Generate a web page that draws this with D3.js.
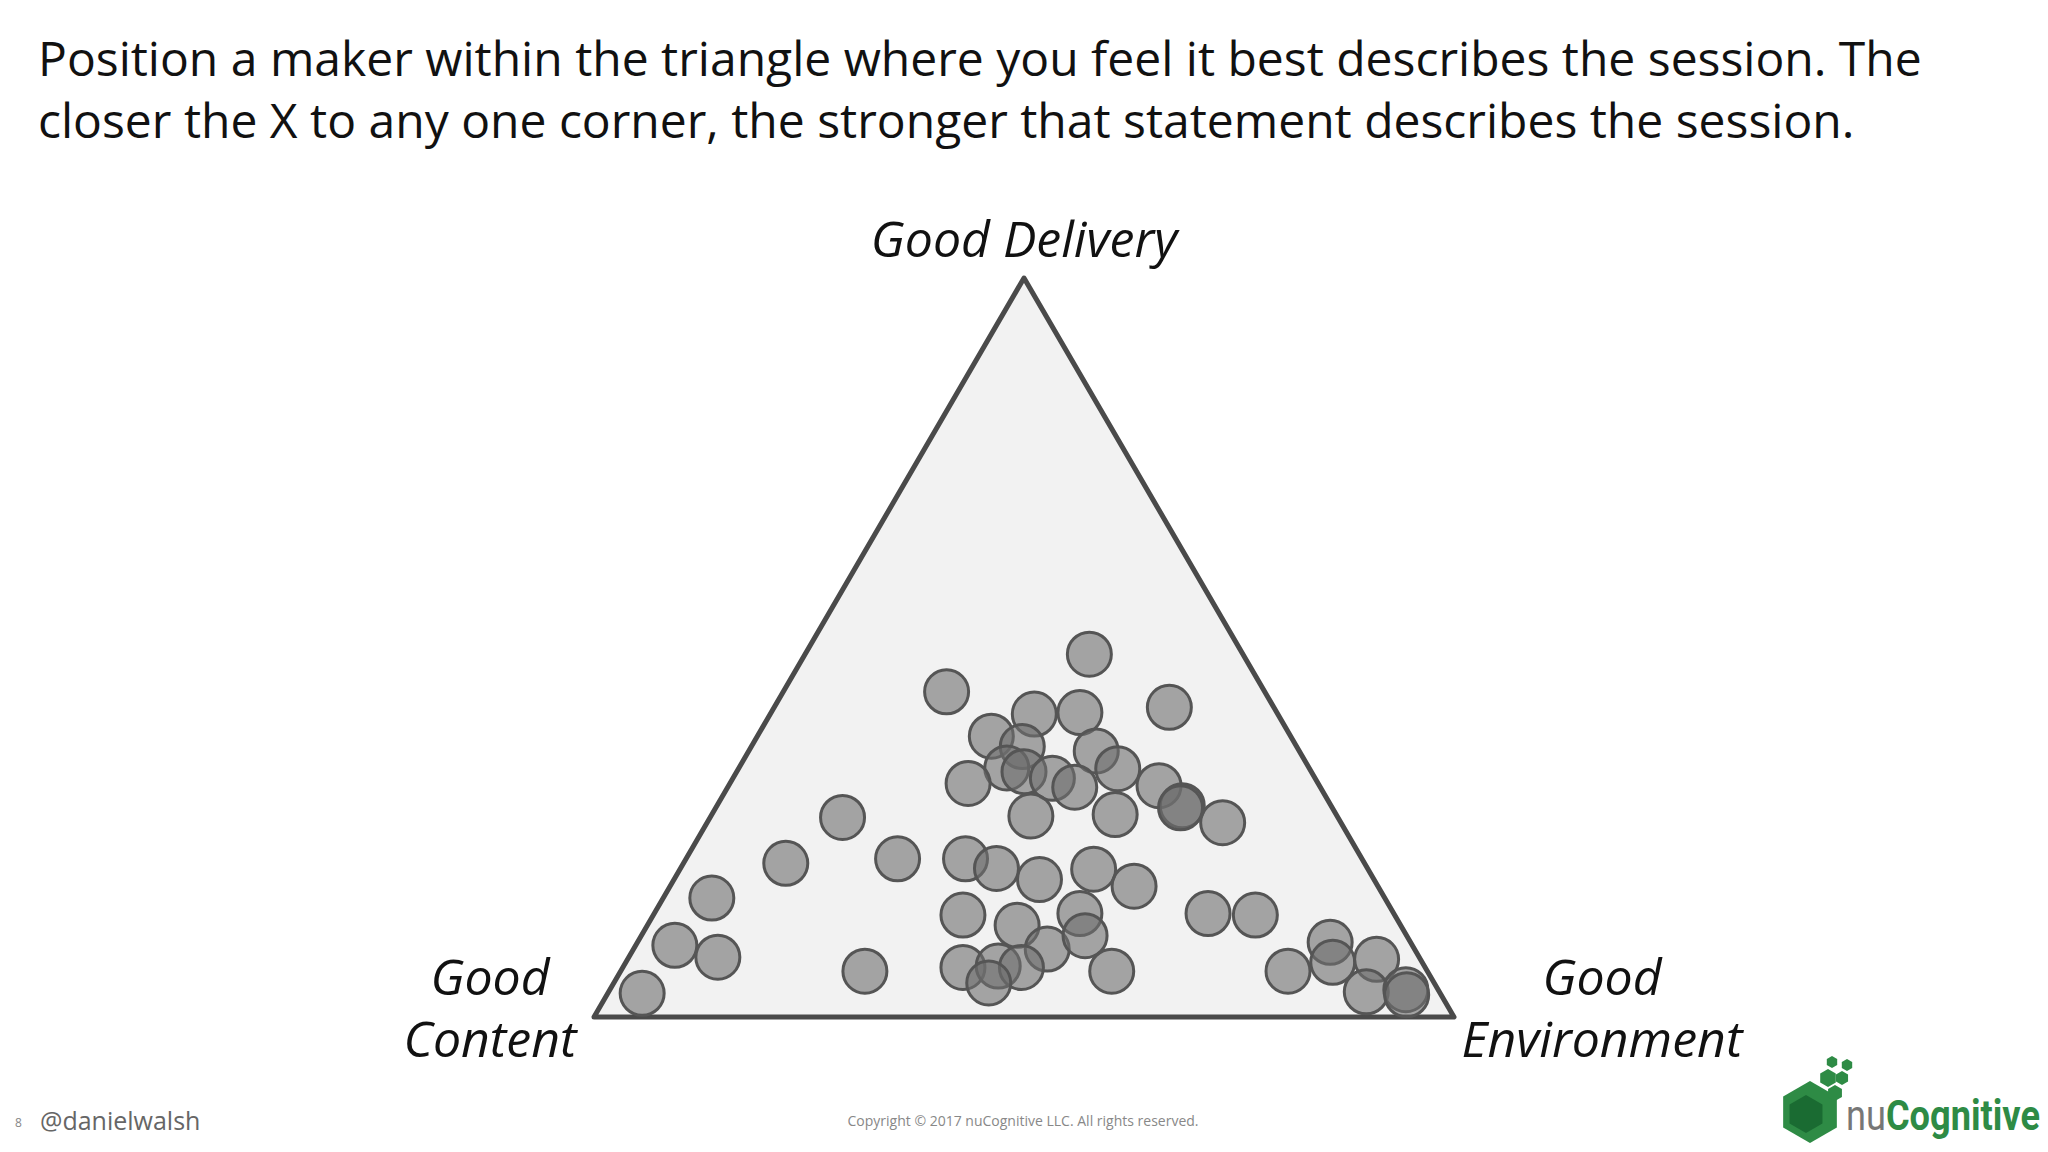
<!DOCTYPE html>
<html><head><meta charset="utf-8">
<script src="https://cdn.jsdelivr.net/npm/d3@7"></script>
<style>body{margin:0;background:#fff}</style></head>
<body><svg id="c" width="2048" height="1152"></svg>
<script>
const cornerLabels = ["Good Delivery", "Good Content", "Good Environment"];
const titleLines = ["Position a maker within the triangle where you feel it best describes the session. The",
  "closer the X to any one corner, the stronger that statement describes the session."];
// u: position along the base (0-100), v: height above base (0-100)
const pointsU = [57.6,41.0,66.9,51.2,56.5,46.2,49.8,58.4,48.0,50.0,53.3,60.9,43.5,55.9,65.7,68.4,68.2,50.8,60.6,73.1,28.9,22.3,35.3,43.2,46.8,51.8,58.1,62.8,13.7,42.9,56.5,71.4,76.9,49.2,9.4,14.4,52.7,57.1,85.6,85.9,91.0,31.5,42.9,47.0,49.7,60.2,80.7,5.6,45.9,89.8,94.4,94.5];
const pointsV = [49.1,44.0,41.9,41.0,41.2,38.0,36.6,36.0,33.7,33.2,32.3,33.6,31.6,31.1,31.3,28.6,28.3,27.2,27.4,26.3,27.0,20.8,21.4,21.4,20.1,18.6,20.0,17.7,16.1,13.8,14.0,14.0,13.8,12.4,9.7,8.1,9.2,11.0,10.1,7.4,7.8,6.2,6.7,6.9,6.7,6.2,6.2,3.2,4.6,3.4,3.7,3.0];

const svg = d3.select("#c");
const x = d3.scaleLinear().domain([0,100]).range([594,1454]);
const y = d3.scaleLinear().domain([0,100]).range([1017,278]);
const font = "'Open Sans','Noto Sans',sans-serif";

svg.selectAll("text.t").data(titleLines).join("text").attr("class","t")
  .attr("x",38).attr("y",(d,i)=>76+i*62).attr("font-family",font).attr("font-size",48).attr("fill","#111").text(d=>d);

svg.append("path").attr("d",d3.line()([[x(0),y(0)],[x(50),y(100)],[x(100),y(0)]])+"Z")
  .attr("fill","#f2f2f2").attr("stroke","#4a4a4a").attr("stroke-width",5).attr("stroke-linejoin","round");

svg.selectAll("circle").data(pointsU.map((u,i)=>[u,pointsV[i]])).join("circle")
  .attr("cx",d=>x(d[0])).attr("cy",d=>y(d[1])).attr("r",22)
  .attr("fill","rgba(110,110,110,0.6)").attr("stroke","#555").attr("stroke-width",3);

const lab = (t,cx,cy)=>svg.append("text").attr("x",cx).attr("y",cy).attr("text-anchor","middle")
  .attr("font-family",font).attr("font-style","italic").attr("font-size",50).attr("fill","#111").text(t);
lab(cornerLabels[0],1024,257);
lab("Good",490,995); lab("Content",490,1057);
lab("Good",1602,995); lab("Environment",1602,1057);

svg.append("text").attr("x",15).attr("y",1127).attr("font-family",font).attr("font-size",12).attr("fill","#888").text("8");
svg.append("text").attr("x",40).attr("y",1130).attr("font-family",font).attr("font-size",25).attr("fill","#666").text("@danielwalsh");
svg.append("text").attr("x",1023).attr("y",1126).attr("text-anchor","middle").attr("font-family",font).attr("font-size",14).attr("fill","#888").text("Copyright © 2017 nuCognitive LLC. All rights reserved.");

// logo
const hex=(cx,cy,r)=>d3.range(6).map(i=>{const a=Math.PI/3*i+Math.PI/6;return [cx+r*Math.cos(a),cy+r*Math.sin(a)];});
const hl=d3.line();
svg.append("path").attr("d",hl(hex(1810,1112,31))+"Z").attr("fill","#2e8b45");
svg.append("path").attr("d",hl(hex(1806,1114,19))+"Z").attr("fill","#1a6b32");
[[1828,1078,9],[1842,1078,7],[1835,1093,8],[1832,1062,6],[1847,1065,6]].forEach(h=>
  svg.append("path").attr("d",hl(hex(...h))+"Z").attr("fill","#2e8b45"));
const lt=svg.append("text").attr("x",1846).attr("y",1130).attr("font-family","'Liberation Sans Narrow','Roboto',sans-serif")
  .attr("font-size",42).attr("textLength",194).attr("lengthAdjust","spacingAndGlyphs");
lt.append("tspan").attr("fill","#777").text("nu");
lt.append("tspan").attr("fill","#2e8b45").attr("font-weight","bold").text("Cognitive");
</script></body></html>
